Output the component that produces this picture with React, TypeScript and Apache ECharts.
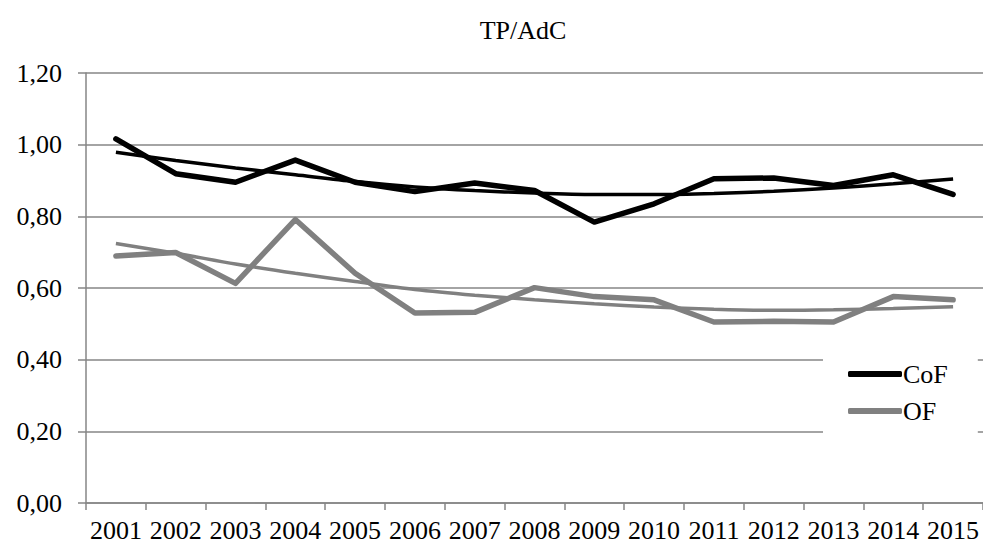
import React, { useEffect, useRef } from "react";
import * as echarts from "echarts";

const title = "TP/AdC";
const years = ["2001","2002","2003","2004","2005","2006","2007","2008","2009","2010","2011","2012","2013","2014","2015"];
const cofValues = [1.016,0.919,0.895,0.957,0.895,0.869,0.893,0.872,0.784,0.835,0.905,0.907,0.886,0.916,0.861];
const ofValues = [0.689,0.699,0.613,0.791,0.641,0.530,0.532,0.601,0.576,0.567,0.505,0.507,0.505,0.576,0.567];
const cofTrend = [0.979,0.956,0.935,0.916,0.897,0.882,0.872,0.865,0.861,0.861,0.864,0.870,0.879,0.891,0.904];
const ofTrend = [0.724,0.697,0.667,0.641,0.618,0.596,0.580,0.567,0.556,0.547,0.541,0.538,0.539,0.543,0.548];
const yTicks = { min: 0, max: 1.2, interval: 0.2 };

const FONT = "'Liberation Serif', 'Times New Roman', serif";
const GRAY = "#808080";

export default function App() {
  const ref = useRef<HTMLDivElement>(null);
  useEffect(() => {
    if (!ref.current) return;
    const chart = echarts.init(ref.current, undefined, { renderer: "svg" });
    chart.setOption({
      animation: false,
      backgroundColor: "#fff",
      title: {
        text: title,
        left: 518,
        top: 12,
        textAlign: "center",
        textStyle: { fontFamily: FONT, fontSize: 26, fontWeight: "normal", color: "#000" },
      },
      legend: {
        orient: "vertical",
        left: 823,
        top: 355,
        padding: [6, 30, 9, 25],
        backgroundColor: "#fff",
        itemGap: 11,
        itemWidth: 54,
        itemHeight: 6,
        data: [
          { name: "CoF", icon: "roundRect", itemStyle: { color: "#000" } },
          { name: "OF", icon: "roundRect", itemStyle: { color: GRAY } },
        ],
        textStyle: { fontFamily: FONT, fontSize: 26, color: "#000", padding: [0, 0, 0, -4] },
      },
      grid: { left: 86, top: 73, width: 903, height: 430 },
      xAxis: {
        type: "category",
        data: years,
        boundaryGap: true,
        axisLine: { lineStyle: { color: "#868686", width: 1.5 } },
        axisTick: { show: true, length: 7, lineStyle: { color: "#868686", width: 1.5 } },
        axisLabel: { fontFamily: FONT, fontSize: 26, color: "#000", margin: 14, interval: 0 },
        splitLine: { show: false },
      },
      yAxis: {
        type: "value",
        min: yTicks.min,
        max: yTicks.max,
        interval: yTicks.interval,
        axisLine: { show: true, lineStyle: { color: "#868686", width: 1.5 } },
        axisTick: { show: true, length: 8, lineStyle: { color: "#868686", width: 1.5 } },
        axisLabel: {
          fontFamily: FONT,
          fontSize: 26,
          color: "#000",
          margin: 24,
          formatter: (v: number) => v.toFixed(2).replace(".", ","),
        },
        splitLine: { show: true, lineStyle: { color: "#868686", width: 1.5 } },
      },
      series: [
        {
          name: "CoF trend",
          type: "line",
          data: cofTrend,
          smooth: 0.3,
          showSymbol: false,
          lineStyle: { color: "#000", width: 3.5 },
          itemStyle: { color: "#000" },
          z: 2,
        },
        {
          name: "OF trend",
          type: "line",
          data: ofTrend,
          smooth: 0.3,
          showSymbol: false,
          lineStyle: { color: GRAY, width: 3.5 },
          itemStyle: { color: GRAY },
          z: 2,
        },
        {
          name: "CoF",
          type: "line",
          data: cofValues,
          showSymbol: false,
          lineStyle: { color: "#000", width: 5.5, cap: "round", join: "round" },
          itemStyle: { color: "#000" },
          z: 3,
        },
        {
          name: "OF",
          type: "line",
          data: ofValues,
          showSymbol: false,
          lineStyle: { color: GRAY, width: 5.5, cap: "round", join: "round" },
          itemStyle: { color: GRAY },
          z: 3,
        },
      ],
    });
    return () => chart.dispose();
  }, []);
  return (
    <div
      ref={ref}
      style={{ position: "fixed", left: 0, top: 0, width: 983, height: 545, background: "#fff" }}
    />
  );
}
